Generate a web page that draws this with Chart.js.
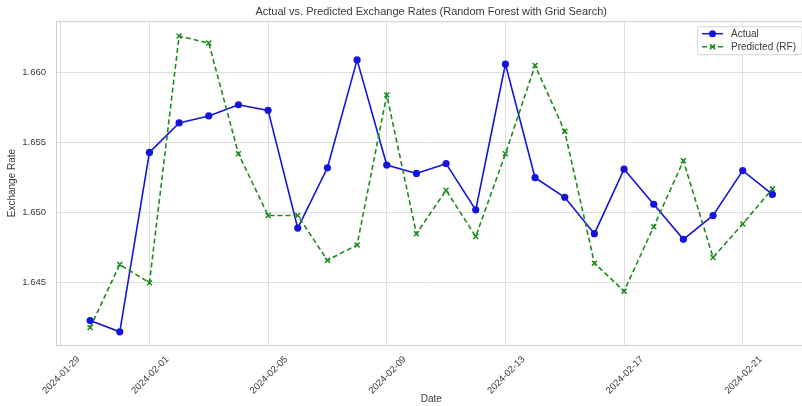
<!DOCTYPE html>
<html lang="en">
  <head>
    <meta charset="utf-8" />
    <title>Actual vs. Predicted Exchange Rates</title>
    <script src="https://cdn.jsdelivr.net/npm/chart.js@4.4.0/dist/chart.umd.min.js"></script>
    <style>
      html,
      body {
        margin: 0;
        padding: 0;
        background: #fff;
        overflow: hidden;
      }
      #wrap {
        width: 812px;
        height: 406px;
      }
    </style>
  </head>
  <body>
    <div id="wrap"><canvas id="rateChart"></canvas></div>

    <script>
      // --- data ------------------------------------------------------------
      const dates = [
        "2024-01-30", "2024-01-31", "2024-02-01", "2024-02-02", "2024-02-03",
        "2024-02-04", "2024-02-05", "2024-02-06", "2024-02-07", "2024-02-08",
        "2024-02-09", "2024-02-10", "2024-02-11", "2024-02-12", "2024-02-13",
        "2024-02-14", "2024-02-15", "2024-02-16", "2024-02-17", "2024-02-18",
        "2024-02-19", "2024-02-20", "2024-02-21", "2024-02-22",
      ];
      const actual = [
        1.6423, 1.6415, 1.6543, 1.6564, 1.6569, 1.6577, 1.6573, 1.6489,
        1.6532, 1.6609, 1.6534, 1.6528, 1.6535, 1.6502, 1.6606, 1.6525,
        1.6511, 1.6485, 1.6531, 1.6506, 1.6481, 1.6498, 1.653, 1.6513,
      ];
      const predicted = [
        1.6418, 1.6463, 1.645, 1.6626, 1.6621, 1.6542, 1.6498, 1.6498,
        1.6466, 1.6477, 1.6584, 1.6485, 1.6516, 1.6483, 1.6542, 1.6605,
        1.6558, 1.6464, 1.6444, 1.649, 1.6537, 1.6468, 1.6492, 1.6517,
      ];
      const xTickLabels = [
        "2024-01-29", "2024-02-01", "2024-02-05", "2024-02-09",
        "2024-02-13", "2024-02-17", "2024-02-21",
      ];
      const yTickValues = [1.645, 1.65, 1.655, 1.66];

      // --- helpers ----------------------------------------------------------
      const DAY = 86400000;
      const base = Date.parse("2024-01-29");
      const dayOf = (d) => (Date.parse(d) - base) / DAY;
      const xTickPos = xTickLabels.map(dayOf);

      const FONT = "'Liberation Sans', Arial, sans-serif";
      const TXT = "#3a3a3a";
      const GRID = "#dedede";

      // frame (spines) around the plot area
      const framePlugin = {
        id: "frame",
        beforeDatasetsDraw(chart) {
          const a = chart.chartArea;
          const c = chart.ctx;
          c.save();
          c.strokeStyle = "#cfcfcf";
          c.lineWidth = 1;
          c.strokeRect(a.left + 0.5, a.top + 0.5, a.right - a.left, a.bottom - a.top);
          c.restore();
        },
      };

      // legend in the upper right corner, inside the axes
      const legendPlugin = {
        id: "innerLegend",
        afterDatasetsDraw(chart) {
          const a = chart.chartArea;
          const c = chart.ctx;
          const right = a.right - 5;
          const left = 697;
          const top = a.top + 5;
          c.save();
          c.fillStyle = "rgba(255,255,255,0.85)";
          c.strokeStyle = "#d6d6d6";
          c.lineWidth = 1;
          c.beginPath();
          c.roundRect(left + 0.5, top + 0.5, right - left, 28, 2);
          c.fill();
          c.stroke();

          chart.data.datasets.forEach((ds, i) => {
            const y = top + 7.5 + i * 13;
            c.strokeStyle = ds.borderColor;
            c.lineWidth = 1.5;
            c.setLineDash(ds.borderDash || []);
            c.beginPath();
            c.moveTo(702, y);
            c.lineTo(723, y);
            c.stroke();
            c.setLineDash([]);
            if (ds.pointStyle === "circle") {
              c.fillStyle = ds.borderColor;
              c.beginPath();
              c.arc(712.5, y, 3.5, 0, Math.PI * 2);
              c.fill();
            } else {
              c.beginPath();
              c.moveTo(710, y - 2.5);
              c.lineTo(715, y + 2.5);
              c.moveTo(715, y - 2.5);
              c.lineTo(710, y + 2.5);
              c.stroke();
            }
            c.fillStyle = TXT;
            c.font = "10px " + FONT;
            c.textBaseline = "middle";
            c.fillText(ds.label, 731, y + 0.5);
          });
          c.restore();
        },
      };

      new Chart(document.getElementById("rateChart"), {
        type: "line",
        data: {
          datasets: [
            {
              label: "Actual",
              data: dates.map((d, i) => ({ x: dayOf(d), y: actual[i] })),
              borderColor: "#1414dc",
              backgroundColor: "#1414dc",
              borderWidth: 1.6,
              pointStyle: "circle",
              pointRadius: 3.6,
              pointBorderWidth: 0,
              tension: 0,
              order: 1,
            },
            {
              label: "Predicted (RF)",
              data: dates.map((d, i) => ({ x: dayOf(d), y: predicted[i] })),
              borderColor: "#1e8a1e",
              backgroundColor: "#1e8a1e",
              borderWidth: 1.6,
              borderDash: [5, 3],
              pointStyle: "crossRot",
              pointRadius: 3.5,
              pointBorderWidth: 1.5,
              tension: 0,
              order: 0,
            },
          ],
        },
        options: {
          responsive: true,
          maintainAspectRatio: false,
          animation: false,
          layout: { padding: { left: 0, right: 3, top: 0, bottom: 0 } },
          plugins: {
            legend: { display: false },
            tooltip: { enabled: false },
            title: {
              display: true,
              fullSize: false,
              text: "Actual vs. Predicted Exchange Rates (Random Forest with Grid Search)",
              color: TXT,
              font: { family: FONT, size: 11, weight: "normal" },
              padding: { top: 5, bottom: 3 },
            },
          },
          scales: {
            x: {
              type: "linear",
              min: -0.15,
              max: 25.15,
              afterBuildTicks: (s) => {
                s.ticks = xTickPos.map((v) => ({ value: v }));
              },
              afterFit: (s) => {
                s.height = 61;
              },
              ticks: {
                autoSkip: false,
                maxRotation: 45,
                minRotation: 45,
                labelOffset: 18,
                padding: 9,
                color: TXT,
                font: { family: FONT, size: 9.5 },
                callback: (v, i) => xTickLabels[i],
              },
              grid: { color: GRID, lineWidth: 1, drawTicks: false },
              border: { color: "#cfcfcf" },
              title: {
                display: true,
                text: "Date",
                color: TXT,
                font: { family: FONT, size: 10 },
                padding: { top: 0, bottom: 1 },
              },
            },
            y: {
              min: 1.64056,
              max: 1.66366,
              afterBuildTicks: (s) => {
                s.ticks = yTickValues.map((v) => ({ value: v }));
              },
              afterFit: (s) => {
                s.width = 56;
              },
              ticks: {
                padding: 10,
                color: TXT,
                font: { family: FONT, size: 9.5 },
                callback: (v) => v.toFixed(3),
              },
              grid: { color: GRID, lineWidth: 1, drawTicks: false },
              border: { color: "#cfcfcf" },
              title: {
                display: true,
                text: "Exchange Rate",
                color: TXT,
                font: { family: FONT, size: 10 },
                padding: { top: 6, bottom: 0 },
              },
            },
          },
        },
        plugins: [framePlugin, legendPlugin],
      });
    </script>
  </body>
</html>
